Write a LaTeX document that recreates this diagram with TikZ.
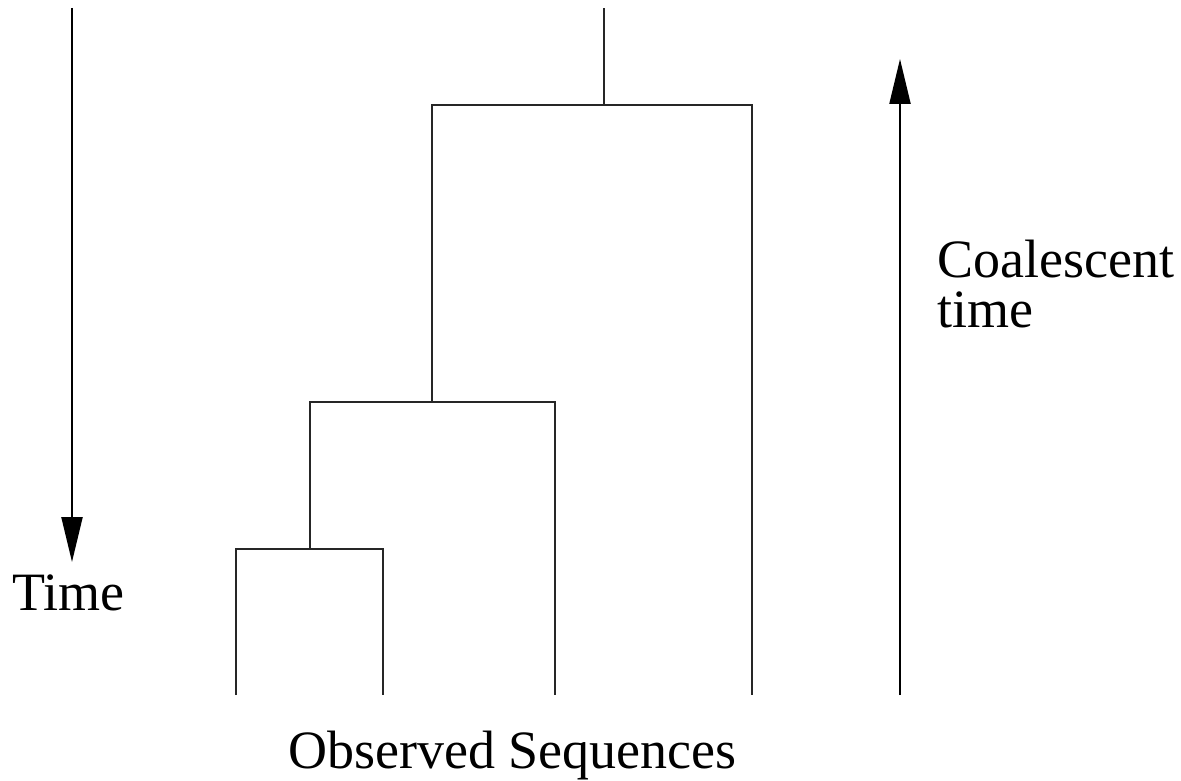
\documentclass[tikz,border=0pt]{standalone}
\usepackage{fontspec}
\setmainfont{Liberation Serif}
\usetikzlibrary{arrows.meta}
\begin{document}
\begin{tikzpicture}[x=1pt,y=-1pt,
  branch/.style={line width=1.2pt,black!85},
  timearrow/.style={line width=2.2pt,-{Triangle[length=45pt,width=21pt]}},
  lbl/.style={font=\fontsize{54}{54}\selectfont,inner sep=0pt,anchor=base west,align=left}]
\useasboundingbox (0,0) rectangle (1181,781);
% tree coordinates
\coordinate (l1) at (236,695);
\coordinate (l2) at (383,695);
\coordinate (l3) at (555,695);
\coordinate (l4) at (752,695);
\coordinate (a1) at (236,549);
\coordinate (b1) at (383,549);
\coordinate (m1) at (310,549);
\coordinate (a2) at (310,402);
\coordinate (b2) at (555,402);
\coordinate (m2) at (432,402);
\coordinate (a3) at (432,105);
\coordinate (b3) at (752,105);
\coordinate (m3) at (604,105);
\coordinate (root) at (604,8);
\draw[branch] (l1) -- (a1) -- (b1) -- (l2);
\draw[branch] (m1) -- (a2) -- (b2) -- (l3);
\draw[branch] (m2) -- (a3) -- (b3) -- (l4);
\draw[branch] (m3) -- (root);
% time arrows
\coordinate (t0) at (72,8);
\coordinate (t1) at (72,562);
\draw[timearrow] (t0) -- (t1);
\coordinate (c0) at (900,695);
\coordinate (c1) at (900,59);
\draw[timearrow] (c0) -- (c1);
% labels
\node[lbl] (time) at (12,610) {Time};
\node[lbl] (coal) at (937,277) {Coalescent};
\node[lbl] (coal2) at (937,327) {time};
\node[lbl] (obs) at (288,768) {Observed Sequences};
\end{tikzpicture}
\end{document}
